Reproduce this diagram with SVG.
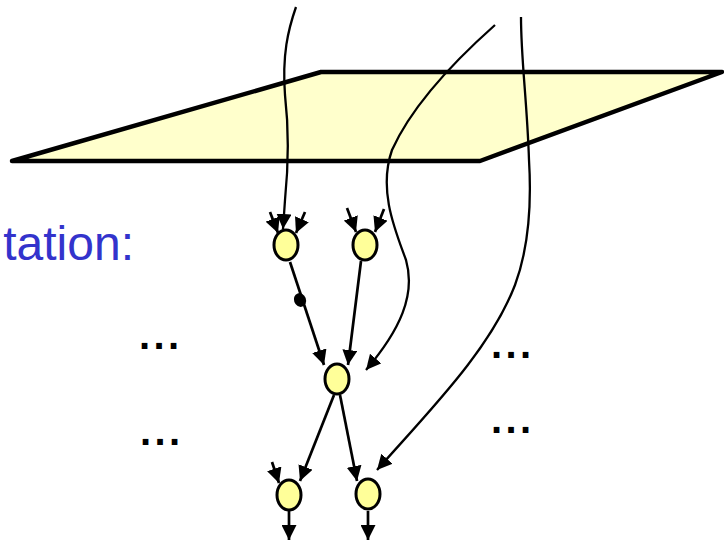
<svg xmlns="http://www.w3.org/2000/svg" width="724" height="541" viewBox="0 0 724 541">
<defs>
<marker id="ah" viewBox="0 0 15 15" refX="15" refY="7.5" markerUnits="userSpaceOnUse" markerWidth="15" markerHeight="15" orient="auto">
<path d="M0,0 L15,7.5 L0,15 z" fill="#000"/>
</marker>
</defs>
<style>
.node{fill:#FFFF99;stroke:#000;stroke-width:3}
.edge{fill:none;stroke:#000;stroke-width:2.7;marker-end:url(#ah)}
.curve{fill:none;stroke:#000;stroke-width:2.3;marker-end:url(#ah)}
.dots{font-family:"Liberation Sans",Arial,sans-serif;font-weight:bold;font-size:40px;letter-spacing:3.4px;fill:#000}
</style>
<g id="plane">
<polygon points="12,161 321,72 722,72 480,161" fill="#FFFFCC" stroke="#000" stroke-width="4.5" stroke-linejoin="round"/>
</g>
<text id="label" x="134" y="260" text-anchor="end" font-family="Liberation Sans, Arial, sans-serif" font-size="48" fill="#3333CC">tation:</text>
<g id="connectors">
<path class="curve" d="M296,7 C288,30 282,55 285,95 C289,130 288,170 285,200 L283,229"/>
<path class="curve" d="M495,25 C450,65 410,110 392,150 C378,190 395,230 406,260 C416,295 400,330 366,370"/>
<path class="curve" d="M521,17 C521,60 527,100 529,160 C532,210 528,250 515,285 C490,350 430,410 377,470"/>
<line class="edge" x1="270" y1="212" x2="278" y2="233"/>
<line class="edge" x1="305" y1="212" x2="296" y2="233"/>
<line class="edge" x1="347" y1="208" x2="356" y2="232"/>
<line class="edge" x1="384" y1="209" x2="375" y2="232"/>
<line class="edge" x1="290" y1="262" x2="324" y2="365"/>
<line class="edge" x1="361" y1="261" x2="348" y2="365"/>
<line class="edge" x1="334" y1="395" x2="300" y2="481"/>
<line class="edge" x1="340" y1="395" x2="357" y2="481"/>
<line class="edge" x1="272" y1="462" x2="279" y2="483"/>
<line class="edge" x1="289" y1="511" x2="289" y2="540"/>
<line class="edge" x1="368" y1="511" x2="368" y2="540"/>
<ellipse cx="300" cy="300" rx="6" ry="7" transform="rotate(-20 300 300)" fill="#000"/>
</g>
<g id="n1"><ellipse class="node" cx="286" cy="245" rx="12" ry="15"/></g>
<g id="n2"><ellipse class="node" cx="365" cy="245" rx="12" ry="15"/></g>
<g id="n3"><ellipse class="node" cx="337" cy="379" rx="12" ry="15"/></g>
<g id="n4"><ellipse class="node" cx="289" cy="495" rx="12" ry="15"/></g>
<g id="n5"><ellipse class="node" cx="368" cy="494" rx="12" ry="15"/></g>
<text class="dots" x="139" y="349">...</text>
<text class="dots" x="140" y="445">...</text>
<text class="dots" x="491" y="358">...</text>
<text class="dots" x="491" y="433">...</text>
</svg>
